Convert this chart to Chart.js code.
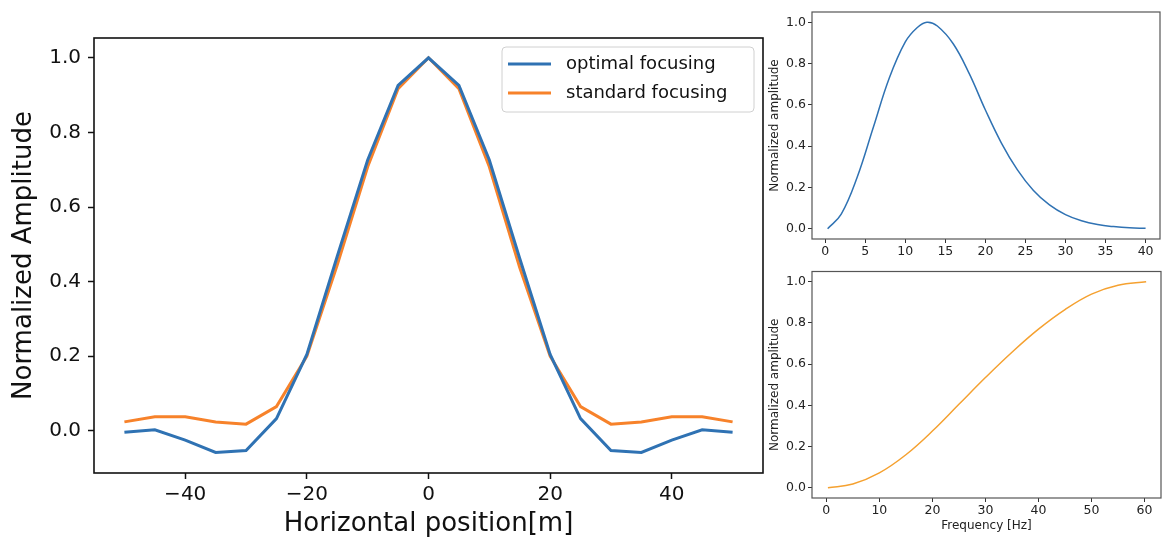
<!DOCTYPE html>
<html>
<head>
<meta charset="utf-8">
<title>Focusing comparison</title>
<script src="https://cdn.jsdelivr.net/npm/chart.js@4.4.1/dist/chart.umd.min.js"></script>
<style>
    html, body { margin: 0; padding: 0; background: #fff; }
    .box { position: absolute; }
    #mainBox { left: 0; top: 0; width: 765px; height: 542px; }
    #topBox { left: 765px; top: 0; width: 397px; height: 262px; }
    #botBox { left: 765px; top: 262px; width: 397px; height: 280px; }
</style>
</head>
<body>
<div class="box" id="mainBox"><canvas id="mainChart"></canvas></div>
<div class="box" id="topBox"><canvas id="sourceChart"></canvas></div>
<div class="box" id="botBox"><canvas id="filterChart"></canvas></div>
<script>
// Main plot data
const positions = [-50, -45, -40, -35, -30, -25, -20, -15, -10, -5, 0, 5, 10, 15, 20, 25, 30, 35, 40, 45, 50];
const optimalFocusing = [-0.004, 0.003, -0.025, -0.058, -0.053, 0.033, 0.205, 0.468, 0.726, 0.926, 1.0, 0.926, 0.726, 0.462, 0.205, 0.033, -0.053, -0.058, -0.025, 0.003, -0.004];
const standardFocusing = [0.024, 0.038, 0.038, 0.024, 0.018, 0.065, 0.2, 0.445, 0.708, 0.917, 1.0, 0.917, 0.708, 0.438, 0.2, 0.065, 0.018, 0.024, 0.038, 0.038, 0.024];
const mainXTicks = [-40, -20, 0, 20, 40];
const mainYTicks = [0, 0.2, 0.4, 0.6, 0.8, 1.0];

// Top right: source spectrum
const sourceFreq = [0.3, 2, 4, 6, 8, 10, 11.5, 12.7, 14, 16, 18, 20, 22, 24, 26, 28, 30, 32, 34, 36, 38, 40];
const sourceAmp = [0.0, 0.07, 0.25, 0.49, 0.73, 0.905, 0.975, 1.0, 0.982, 0.895, 0.75, 0.575, 0.415, 0.285, 0.185, 0.115, 0.068, 0.038, 0.02, 0.01, 0.004, 0.002];
const sourceXTicks = [0, 5, 10, 15, 20, 25, 30, 35, 40];

// Bottom right: filter response
const filterFreq = [0.3, 5, 10, 15, 20, 25, 30, 35, 40, 45, 50, 55, 60.3];
const filterAmp = [0.0, 0.018, 0.072, 0.16, 0.275, 0.405, 0.535, 0.658, 0.77, 0.865, 0.94, 0.983, 1.0];
const filterXTicks = [0, 10, 20, 30, 40, 50, 60];
const smallYTicks = [0, 0.2, 0.4, 0.6, 0.8, 1.0];

const FONT = '"DejaVu Sans", sans-serif';
const minus = v => String(v).replace('-', '\u2212');

function toPoints(xs, ys) {
    return xs.map((x, i) => ({ x: x, y: ys[i] }));
}

// Draw a full box around the plot area like matplotlib spines
const framePlugin = {
    id: 'frame',
    afterDraw(chart, args, opts) {
        const { ctx, chartArea: a } = chart;
        ctx.save();
        ctx.strokeStyle = opts.color || '#000';
        ctx.lineWidth = opts.width || 1;
        ctx.strokeRect(a.left, a.top, a.right - a.left, a.bottom - a.top);
        ctx.restore();
    }
};

// Legend drawn inside the upper right corner of the main plot
const boxLegend = {
    id: 'boxLegend',
    afterDraw(chart) {
        const ctx = chart.ctx;
        const a = chart.chartArea;
        const x = a.right - 261, y = a.top + 9, w = 252, h = 65;
        ctx.save();
        ctx.fillStyle = 'rgba(255,255,255,0.8)';
        ctx.strokeStyle = '#d0d0d0';
        ctx.lineWidth = 1;
        ctx.beginPath();
        ctx.roundRect(x, y, w, h, 4);
        ctx.fill();
        ctx.stroke();
        chart.data.datasets.forEach((ds, i) => {
            const cy = y + 17 + i * 29;
            ctx.strokeStyle = ds.borderColor;
            ctx.lineWidth = 3;
            ctx.beginPath();
            ctx.moveTo(x + 6, cy);
            ctx.lineTo(x + 49, cy);
            ctx.stroke();
            ctx.fillStyle = '#111';
            ctx.font = '18px ' + FONT;
            ctx.textBaseline = 'middle';
            ctx.fillText(ds.label, x + 64, cy);
        });
        ctx.restore();
    }
};

function axis(o) {
    return {
        type: 'linear',
        min: o.min,
        max: o.max,
        afterBuildTicks: s => { s.ticks = o.ticks.map(v => ({ value: v })); },
        afterFit: o.fit,
        border: { display: false },
        grid: {
            drawOnChartArea: false,
            drawTicks: true,
            tickLength: o.tickLength,
            tickWidth: o.tickWidth,
            tickColor: o.color
        },
        ticks: {
            color: o.textColor,
            font: { family: FONT, size: o.fontSize },
            padding: o.padding,
            maxRotation: 0,
            autoSkip: false,
            callback: o.format
        },
        title: o.title ? {
            display: true,
            text: o.title,
            color: o.textColor,
            font: { family: FONT, size: o.titleSize },
            padding: o.titlePadding
        } : { display: false }
    };
}

new Chart(document.getElementById('mainChart'), {
    type: 'line',
    data: {
        datasets: [{
            label: 'optimal focusing',
            data: toPoints(positions, optimalFocusing),
            borderColor: '#2f72b3',
            borderWidth: 3,
            pointRadius: 0,
            tension: 0
        }, {
            label: 'standard focusing',
            data: toPoints(positions, standardFocusing),
            borderColor: '#f7822a',
            borderWidth: 3,
            pointRadius: 0,
            tension: 0
        }]
    },
    options: {
        responsive: true,
        maintainAspectRatio: false,
        animation: false,
        layout: { padding: { top: 38, right: 2, left: 0, bottom: 0 } },
        plugins: {
            legend: { display: false },
            tooltip: { enabled: false },
            frame: { color: '#111', width: 1.6 }
        },
        scales: {
            x: axis({
                min: -55, max: 55, ticks: mainXTicks,
                fit: s => { s.height = 69; },
                tickLength: 6, tickWidth: 1.5, color: '#111', textColor: '#111',
                fontSize: 20, padding: 4, format: v => minus(v),
                title: 'Horizontal position[m]', titleSize: 26,
                titlePadding: { top: 0, bottom: 2 }
            }),
            y: axis({
                min: -0.113, max: 1.053, ticks: mainYTicks,
                fit: s => { s.width = 94; },
                tickLength: 6, tickWidth: 1.5, color: '#111', textColor: '#111',
                fontSize: 20, padding: 7, format: v => v.toFixed(1),
                title: 'Normalized Amplitude', titleSize: 26,
                titlePadding: { top: 9, bottom: 0 }
            })
        }
    },
    plugins: [framePlugin, boxLegend]
});

new Chart(document.getElementById('sourceChart'), {
    type: 'line',
    data: {
        datasets: [{
            label: 'source',
            data: toPoints(sourceFreq, sourceAmp),
            borderColor: '#2f72b3',
            borderWidth: 1.5,
            pointRadius: 0,
            tension: 0.4
        }]
    },
    options: {
        responsive: true,
        maintainAspectRatio: false,
        animation: false,
        layout: { padding: { top: 12, right: 2, left: 0, bottom: 0 } },
        plugins: {
            legend: { display: false },
            tooltip: { enabled: false },
            frame: { color: '#555', width: 1.2 }
        },
        scales: {
            x: axis({
                min: -1.65, max: 41.8, ticks: sourceXTicks,
                fit: s => { s.height = 23; },
                tickLength: 4, tickWidth: 1, color: '#333', textColor: '#222',
                fontSize: 12.5, padding: 1, format: v => minus(v)
            }),
            y: axis({
                min: -0.05, max: 1.05, ticks: smallYTicks,
                fit: s => { s.width = 47; },
                tickLength: 4, tickWidth: 1, color: '#333', textColor: '#222',
                fontSize: 12.5, padding: 2, format: v => v.toFixed(1),
                title: 'Normalized amplitude', titleSize: 12,
                titlePadding: { top: 3, bottom: 0 }
            })
        }
    },
    plugins: [framePlugin]
});

new Chart(document.getElementById('filterChart'), {
    type: 'line',
    data: {
        datasets: [{
            label: 'filter',
            data: toPoints(filterFreq, filterAmp),
            borderColor: '#f5a130',
            borderWidth: 1.5,
            pointRadius: 0,
            tension: 0.4
        }]
    },
    options: {
        responsive: true,
        maintainAspectRatio: false,
        animation: false,
        layout: { padding: { top: 9, right: 1, left: 0, bottom: 0 } },
        plugins: {
            legend: { display: false },
            tooltip: { enabled: false },
            frame: { color: '#555', width: 1.2 }
        },
        scales: {
            x: axis({
                min: -2.7, max: 63.1, ticks: filterXTicks,
                fit: s => { s.height = 44; },
                tickLength: 4, tickWidth: 1, color: '#333', textColor: '#222',
                fontSize: 12.5, padding: 1, format: v => minus(v),
                title: 'Frequency [Hz]', titleSize: 12,
                titlePadding: { top: 0, bottom: 9 }
            }),
            y: axis({
                min: -0.05, max: 1.05, ticks: smallYTicks,
                fit: s => { s.width = 47; },
                tickLength: 4, tickWidth: 1, color: '#333', textColor: '#222',
                fontSize: 12.5, padding: 2, format: v => v.toFixed(1),
                title: 'Normalized amplitude', titleSize: 12,
                titlePadding: { top: 3, bottom: 0 }
            })
        }
    },
    plugins: [framePlugin]
});
</script>
</body>
</html>
